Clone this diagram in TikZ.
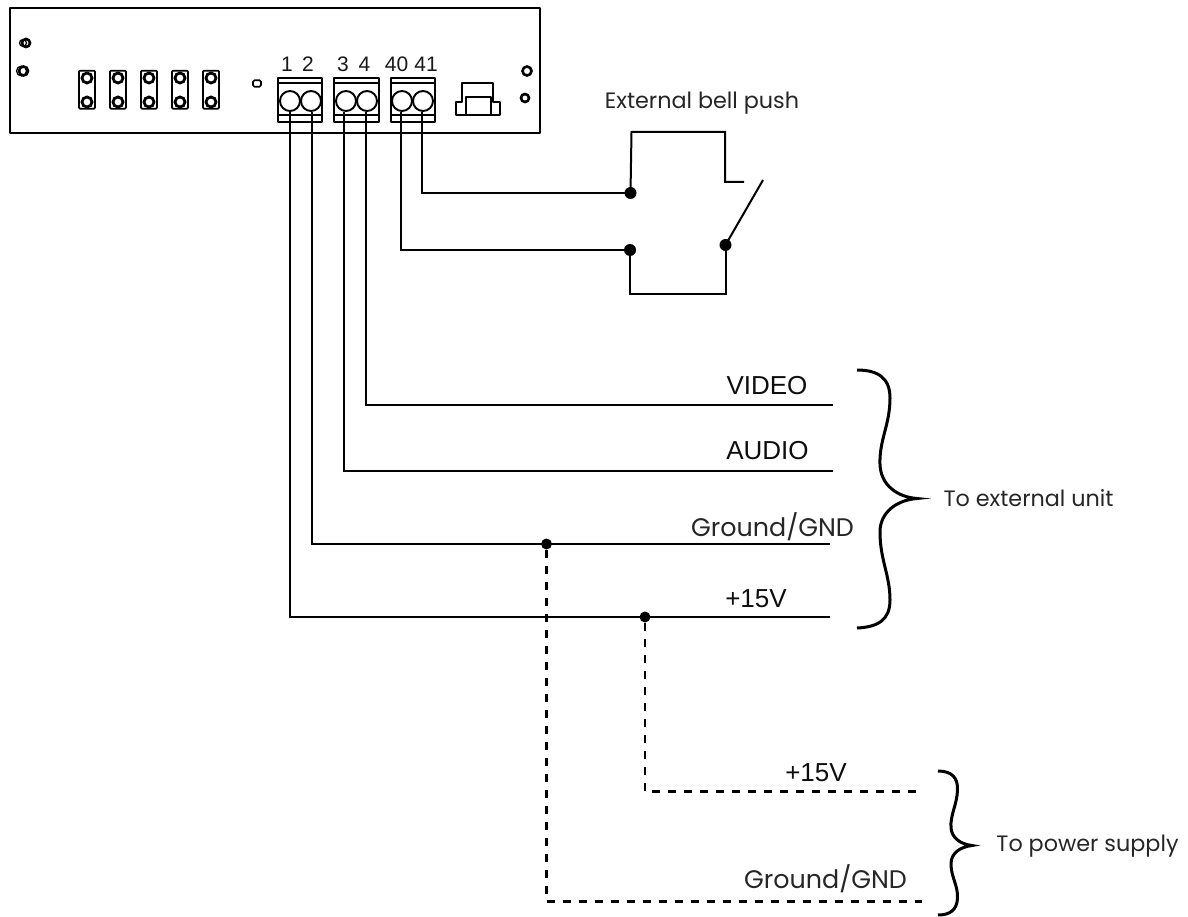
\documentclass[tikz,border=0pt]{standalone}
\usepackage{fontspec}
\setmainfont{Liberation Sans}
\newfontfamily\geo{Poppins}
\tikzset{
  x=1pt,y=-1pt,
  hw/.style={draw=black,line width=1.7pt,line join=round},
  wire/.style={draw=black,line width=2pt,line join=miter},
  dashwire/.style={draw=black,line width=2.5pt,dash pattern=on 8pt off 8pt},
  jdot/.style={circle,fill=black,inner sep=0pt,minimum size=12pt},
  smalldot/.style={circle,fill=black,inner sep=0pt,minimum size=11pt},
  term/.style={circle,draw=black,line width=1.9pt,inner sep=0pt,minimum size=20pt},
  pin/.style={circle,draw=black,line width=2.8pt,inner sep=0pt,minimum size=10pt},
  screw/.style={circle,draw=black,line width=2.6pt,inner sep=0pt,minimum size=8pt},
  arial/.style={font=\fontsize{26}{28}\selectfont,inner sep=0pt,text=black!95},
  num/.style={font=\fontsize{21}{23}\selectfont,inner sep=0pt,text=black!90},
  geotext/.style={font=\geo\fontsize{22.3}{26}\selectfont,inner sep=0pt,text=black!85},
  geolarge/.style={font=\geo\fontsize{25.4}{28}\selectfont,inner sep=0pt,text=black!85},
  bracec/.style={draw=black,line width=3pt,line cap=butt}
}
\begin{document}
\begin{tikzpicture}
\useasboundingbox (0,0) rectangle (1188,917);
% panel
\node[hw,rectangle,inner sep=0pt,minimum width=530pt,minimum height=124.5pt] (panel) at (275,70.5) {};
% left screws
\node[screw] (s1) at (26,43) {};
\node[screw,minimum size=9pt] (s2) at (23.5,71) {};
\draw[line width=1.2pt] (23,43) circle (3.5pt) (21.5,71) circle (5pt);
% jumpers
\foreach \c/\n in {87/a,118/b,149/c,180/d,211/e}{
  \node[hw,rectangle,rounded corners=1pt,inner sep=0pt,minimum width=16pt,minimum height=38pt] (j\n) at (\c,89.7) {};
  \node[pin] (j\n t) at (\c,78) {};
  \node[pin] (j\n b) at (\c,102) {};
}
% LED
\node[hw,rectangle,rounded corners=1.5pt,inner sep=0pt,minimum width=8pt,minimum height=6.5pt] (led) at (257,83.5) {};
% terminal blocks
\foreach \xa/\xb/\n in {278/322/A,334/379/B,391/435/C}{
  \draw[hw] (\xa,78) rectangle (\xb,122);
  \draw[hw] (\xa,83) -- (\xb,83) (\xa,115) -- (\xb,115);
}
\node[term] (t1) at (290,101) {};
\node[term] (t2) at (311,101) {};
\node[term] (t3) at (346,101) {};
\node[term] (t4) at (367,101) {};
\node[term] (t40) at (402,101) {};
\node[term] (t41) at (423,101) {};
% numbers
\node[num] (n1) at (287,64) {1};
\node[num] (n2) at (308,64) {2};
\node[num] (n3) at (343,64) {3};
\node[num] (n4) at (364.5,64) {4};
\node[num] (n40) at (396.5,64) {40};
\node[num] (n41) at (426,64) {41};
% connector
\draw[hw] (456,102) -- (462,102) -- (462,83) -- (493,83) -- (493,102) -- (500,102) -- (500,115) -- (456,115) -- cycle;
\draw[hw] (466,115) -- (466,97) -- (491,97) -- (491,115);
% right screws
\node[screw,minimum size=9pt] (s3) at (527,71) {};
\node[screw] (s4) at (525,98) {};
% label: bell
\node[geotext] (bell) at (702,103) {External bell push};
% junctions
\node[jdot] (b1) at (630.5,193) {};
\node[jdot] (b2) at (630,250) {};
\node[jdot] (b3) at (725.5,245) {};
\node[smalldot] (g) at (546.5,544) {};
\node[smalldot] (p) at (645,617) {};
% switch free coords
\coordinate (c1) at (631.5,132);
\coordinate (c2) at (725,132);
\coordinate (c3) at (725,182);
\coordinate (c4) at (744,182);
\coordinate (c5) at (763,180);
\coordinate (c6) at (630,294);
\coordinate (c7) at (725.5,294);
% wires to bell
\draw[wire] (t41.south) ++(-1,0) coordinate (w41) -- (w41 |- b1) -- (b1.center);
\draw[wire] (t40.south) ++(-1,0) coordinate (w40) -- (w40 |- b2) -- (b2.center);
\draw[wire] (b1.center) -- (c1) -- (c2) -- (c3) -- (c4);
\draw[wire] (b3.center) -- (c5);
\draw[wire] (b2.center) -- (c6) -- (c7) -- (b3.center);
% wire ends
\coordinate (ev) at (833,405);
\coordinate (ea) at (833,471);
\coordinate (eg) at (830,544);
\coordinate (ep) at (830,617);
\draw[wire] (t4.south) ++(-1,0) coordinate (w4) -- (w4 |- ev) -- (ev);
\draw[wire] (t3.south) ++(-2,0) coordinate (w3) -- (w3 |- ea) -- (ea);
\draw[wire] (t2.south) ++(1,0) coordinate (w2) -- (w2 |- eg) -- (eg);
\draw[wire] (t1.south) coordinate (w1) -- (w1 |- ep) -- (ep);
% dashed
\coordinate (dp) at (922,791.5);
\coordinate (dg) at (922,901.5);
\draw[dashwire] (p.south) -- (p.center |- dp) -- (dp);
\draw[dashwire] (g.south) -- (g.center |- dg) -- (dg);
% wire labels
\node[arial] (lv) at (767,386) {VIDEO};
\node[arial] (la) at (767.5,451) {AUDIO};
\node[geolarge] (lg) at (772.5,527) {Ground/GND};
\node[arial] (lp) at (756,599) {+15V};
\node[arial] (lp2) at (816,773) {+15V};
\node[geolarge] (lg2) at (825.5,879) {Ground/GND};
% braces
\draw[bracec] (857,370) .. controls (878,370) and (890,378) .. (890,398)
  .. controls (890,425) and (879,440) .. (880,465)
  .. controls (881,485) and (897,497) .. (917,498.5)
  .. controls (897,500) and (880,512) .. (880,532)
  .. controls (880,560) and (890,575) .. (890,600)
  .. controls (890,620) and (878,627) .. (857,628);
\draw[bracec] (938,771) .. controls (952,771) and (958,778) .. (957.5,790)
  .. controls (957,805) and (950,815) .. (951,828)
  .. controls (952,838) and (960,844) .. (972,845.5)
  .. controls (960,847) and (951,853) .. (951,864)
  .. controls (951,877) and (958,885) .. (957.5,898)
  .. controls (957,910) and (950,915) .. (938,915);
% brace labels
\node[geotext] (ext) at (1028.5,498) {To external unit};
\node[geotext] (pow) at (1087.5,846) {To power supply};
\end{tikzpicture}
\end{document}
